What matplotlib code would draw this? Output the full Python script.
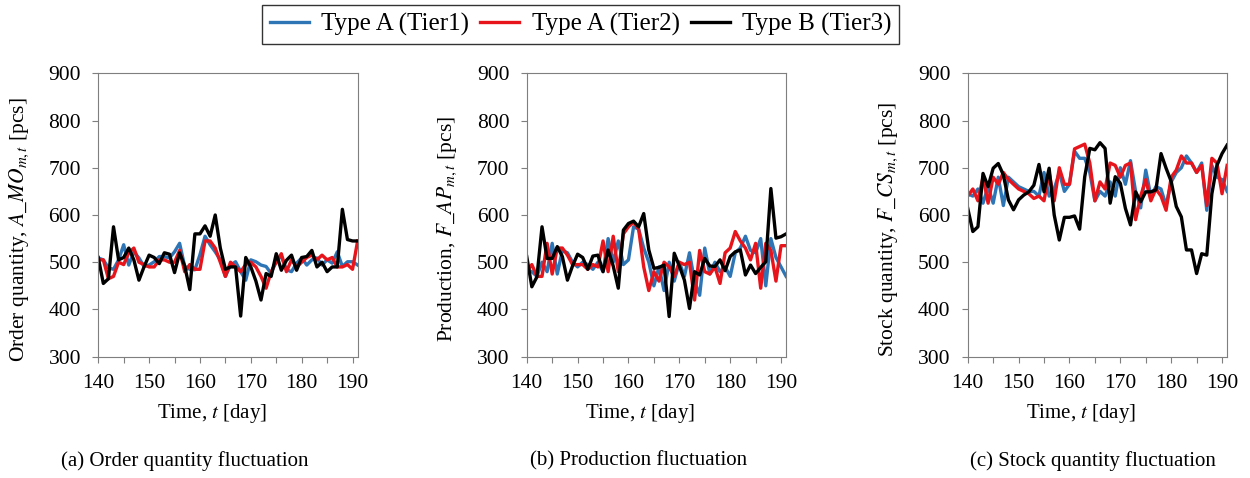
import matplotlib
matplotlib.use("Agg")
import matplotlib.pyplot as plt
import numpy as np

plt.rcParams['font.family'] = ['Liberation Serif', 'DejaVu Serif']
plt.rcParams['mathtext.fontset'] = 'stix'

# days 140..191
days = np.arange(140, 192)

# (a) order quantity
order_t1 = [509, 505, 488, 485, 505, 537, 494, 522, 509, 491, 494, 501, 512, 512, 509, 522,
            540, 491, 485, 484, 516, 555, 537, 522, 505, 470, 494, 501, 480, 462, 505, 501,
            494, 491, 476, 505, 512, 484, 480, 498, 509, 494, 505, 509, 494, 505, 498, 522,
            491, 501, 501, 494]
order_t2 = [505, 505, 465, 470, 500, 495, 520, 530, 500, 495, 490, 490, 505, 505, 500, 500,
            525, 480, 495, 485, 485, 545, 545, 530, 500, 470, 500, 490, 480, 495, 500, 490,
            470, 445, 480, 500, 518, 480, 505, 490, 500, 510, 515, 505, 515, 505, 510, 490,
            490, 495, 485, 545]
order_t3 = [510, 455, 465, 575, 505, 510, 530, 505, 462, 490, 515, 510, 497, 520, 517, 478,
            520, 492, 442, 560, 560, 577, 555, 600, 530, 485, 490, 490, 386, 510, 490, 460,
            420, 476, 470, 518, 483, 504, 515, 483, 510, 512, 525, 490, 500, 480, 490, 490,
            612, 548, 545, 545]

# (b) production
prod_t1 = [485, 480, 470, 500, 480, 540, 475, 525, 520, 500, 490, 500, 495, 485, 500, 480,
           550, 500, 545, 495, 505, 575, 570, 530, 500, 450, 490, 440, 500, 460, 500, 470,
           520, 460, 430, 530, 475, 500, 480, 490, 470, 520, 530, 555, 525, 520, 550, 450,
           550, 510, 490, 470]
prod_t2 = [480, 495, 470, 470, 540, 475, 530, 530, 515, 495, 495, 495, 485, 495, 490, 545,
           480, 555, 480, 560, 575, 585, 570, 490, 440, 480, 460, 500, 490, 470, 500, 495,
           500, 420, 525, 480, 475, 490, 455, 520, 530, 565, 545, 530, 505, 540, 445, 540,
           525, 460, 535, 535]
prod_t3 = [512, 448, 469, 575, 508, 508, 533, 512, 462, 492, 517, 510, 485, 513, 515, 480,
           526, 492, 445, 568, 582, 587, 575, 603, 526, 487, 489, 494, 385, 519, 492, 462,
           402, 480, 473, 508, 492, 491, 505, 482, 512, 522, 526, 473, 494, 476, 489, 501,
           656, 551, 554, 560]

# (c) stock quantity
stock_t1 = [645, 640, 655, 625, 660, 625, 680, 620, 680, 670, 660, 655, 650, 650, 640, 690,
            640, 655, 690, 650, 665, 735, 720, 720, 690, 630, 650, 640, 670, 640, 700, 665,
            715, 650, 615, 695, 640, 660, 655, 620, 670, 690, 700, 725, 710, 690, 710, 610,
            705, 680, 675, 650]
stock_t2 = [640, 655, 630, 680, 625, 680, 665, 690, 675, 665, 655, 650, 645, 635, 640, 630,
            690, 630, 700, 665, 665, 740, 745, 750, 710, 630, 670, 655, 710, 705, 680, 705,
            710, 590, 640, 675, 630, 655, 640, 610, 680, 695, 725, 710, 710, 690, 705, 620,
            720, 710, 645, 705]
stock_t3 = [614, 565, 575, 688, 660, 699, 709, 685, 632, 611, 632, 642, 649, 663, 707, 649,
            699, 600, 547, 595, 595, 598, 570, 681, 741, 738, 753, 741, 625, 681, 667, 614,
            579, 649, 628, 649, 649, 653, 730, 699, 671, 618, 596, 526, 526, 476, 518, 515,
            645, 705, 730, 748]

panels = [
    (order_t1, order_t2, order_t3, r'Order quantity, $A\_MO_{m,t}$ [pcs]', '(a) Order quantity fluctuation'),
    (prod_t1, prod_t2, prod_t3, r'Production, $F\_AP_{m,t}$ [pcs]', '(b) Production fluctuation'),
    (stock_t1, stock_t2, stock_t3, r'Stock quantity, $F\_CS_{m,t}$ [pcs]', '(c) Stock quantity fluctuation'),
]
names = ['Type A (Tier1)', 'Type A (Tier2)', 'Type B (Tier3)']
colors = ['#2E75B6', '#E8141B', '#000000']

fig = plt.figure(figsize=(12.5, 4.78), dpi=100)
lefts = [0.0786, 0.4214, 0.7742]
caption_x = [0.148, 0.511, 0.874]

handles = []
for i, (s1, s2, s3, ylab, cap) in enumerate(panels):
    ax = fig.add_axes([lefts[i], 0.2538, 0.2075, 0.5929])
    for s, c, n in zip([s1, s2, s3], colors, names):
        ln, = ax.plot(days, s, color=c, lw=2.4, label=n)
        if i == 0:
            handles.append(ln)
    ax.set_xlim(140, 191)
    ax.set_ylim(300, 900)
    ax.set_xticks(np.arange(140, 195, 5))
    ax.set_xticklabels([str(d) if d % 10 == 0 else '' for d in range(140, 195, 5)])
    ax.set_yticks(np.arange(300, 1000, 100))
    ax.tick_params(labelsize=15.5, direction='out', length=4.5, color='#7f7f7f')
    ax.tick_params(axis='x', pad=8)
    ax.tick_params(axis='y', pad=8)
    for sp in ax.spines.values():
        sp.set_color('#7f7f7f')
    ax.set_xlabel(r'Time, $t$ [day]', fontsize=15)
    ax.xaxis.set_label_coords(0.438, -0.16)
    ax.set_ylabel(ylab, fontsize=15.5)
    ax.yaxis.set_label_coords(-0.26, 0.45)
    fig.text(caption_x[i], 0.035, cap, fontsize=15, ha='center', va='center')

leg = fig.legend(handles=handles, loc='center', bbox_to_anchor=(0.4644, 0.9487), ncol=3,
                 fontsize=18, frameon=True, fancybox=False, edgecolor='black',
                 handlelength=1.56, handletextpad=0.5, columnspacing=0.44, borderpad=0.3,
                 borderaxespad=0)
leg.get_frame().set_linewidth(1.0)

fig.savefig('out.png', dpi=100)
